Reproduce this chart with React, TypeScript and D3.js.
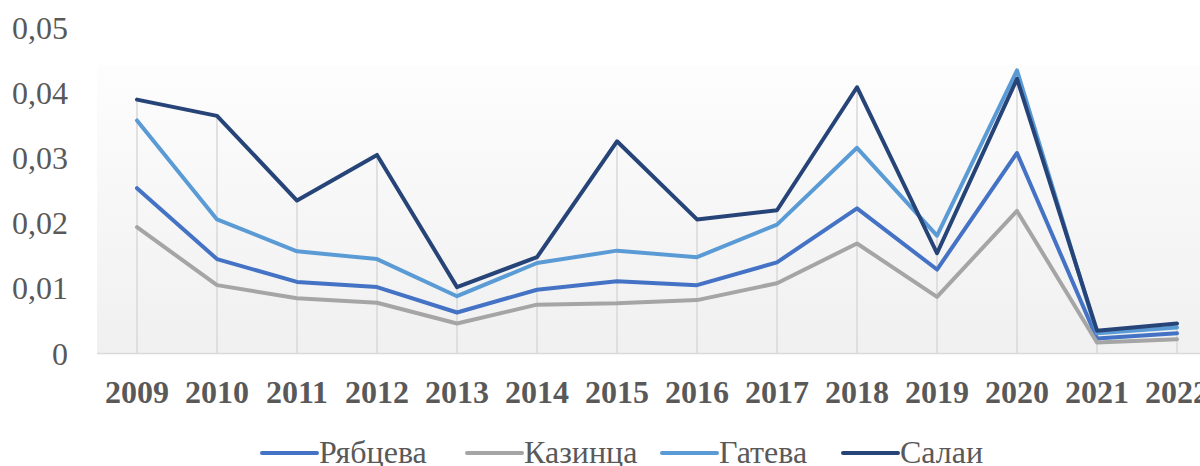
import React from "react";
import * as d3 from "d3";

const years = ["2009","2010","2011","2012","2013","2014","2015","2016","2017","2018","2019","2020","2021","2022"];
const ryabtseva = [0.0254,0.0145,0.0110,0.0102,0.0063,0.0098,0.0111,0.0105,0.0140,0.0223,0.0129,0.0308,0.0023,0.0031];
const kazintsa = [0.0194,0.0105,0.0085,0.0078,0.0046,0.0075,0.0077,0.0082,0.0108,0.0169,0.0087,0.0219,0.0017,0.0022];
const gateva = [0.0358,0.0206,0.0157,0.0145,0.0088,0.0139,0.0158,0.0148,0.0198,0.0316,0.0181,0.0435,0.0031,0.0040];
const salai = [0.0390,0.0365,0.0235,0.0305,0.0102,0.0148,0.0326,0.0206,0.0220,0.0409,0.0154,0.0422,0.0035,0.0046];
const yTicks = [0, 0.01, 0.02, 0.03, 0.04, 0.05];

const series = [
  { name: "Рябцева", values: ryabtseva, color: "#4472c4" },
  { name: "Казинца", values: kazintsa, color: "#a5a5a5" },
  { name: "Гатева", values: gateva, color: "#5b9bd5" },
  { name: "Салаи", values: salai, color: "#264478" },
];

const legendX = [262, 467, 662, 843];

export default function App() {
  const W = 1200, H = 466;
  const x = d3.scalePoint<string>().domain(years).range([137, 1177]);
  const y = d3.scaleLinear().domain([0, 0.05]).range([353.5, 28]);
  const line = d3.line<number>().x((_, i) => x(years[i])!).y(d => y(d));
  const font = "'Liberation Serif', 'Times New Roman', serif";
  return (
    <svg width={W} height={H} style={{ position: "absolute", left: 0, top: 0, background: "#fff" }}>
      <defs>
        <linearGradient id="bg" x1="0" y1="0" x2="0" y2="1">
          <stop offset="0" stopColor="#fdfdfd" />
          <stop offset="1" stopColor="#f0f0f0" />
        </linearGradient>
      </defs>
      <rect x={97} y={65} width={1120} height={y(0) - 65} fill="url(#bg)" />
      {years.map((yr, i) => {
        const mx = Math.max(...series.map(s => s.values[i]));
        return <line key={yr} x1={x(yr)} x2={x(yr)} y1={y(mx)} y2={y(0)} stroke="#d9d9d9" strokeWidth={1.5} />;
      })}
      <line x1={97} x2={1217} y1={y(0)} y2={y(0)} stroke="#d9d9d9" strokeWidth={1.5} />
      {yTicks.map(t => (
        <text key={t} x={68} y={y(t) + 11} textAnchor="end" fontFamily={font} fontSize={32} fill="#595959">
          {t === 0 ? "0" : t.toFixed(2).replace(".", ",")}
        </text>
      ))}
      {years.map(yr => (
        <text key={yr} x={x(yr)} y={403} textAnchor="middle" fontFamily={font} fontSize={32} fontWeight="bold" fill="#595959">
          {yr}
        </text>
      ))}
      {series.map(s => (
        <path key={s.name} d={line(s.values)!} fill="none" stroke={s.color} strokeWidth={4} strokeLinejoin="round" strokeLinecap="round" />
      ))}
      {series.map((s, i) => (
        <g key={s.name}>
          <line x1={legendX[i]} x2={legendX[i] + 55} y1={453} y2={453} stroke={s.color} strokeWidth={4} strokeLinecap="round" />
          <text x={legendX[i] + 57} y={463} fontFamily={font} fontSize={32} fill="#595959">{s.name}</text>
        </g>
      ))}
    </svg>
  );
}
